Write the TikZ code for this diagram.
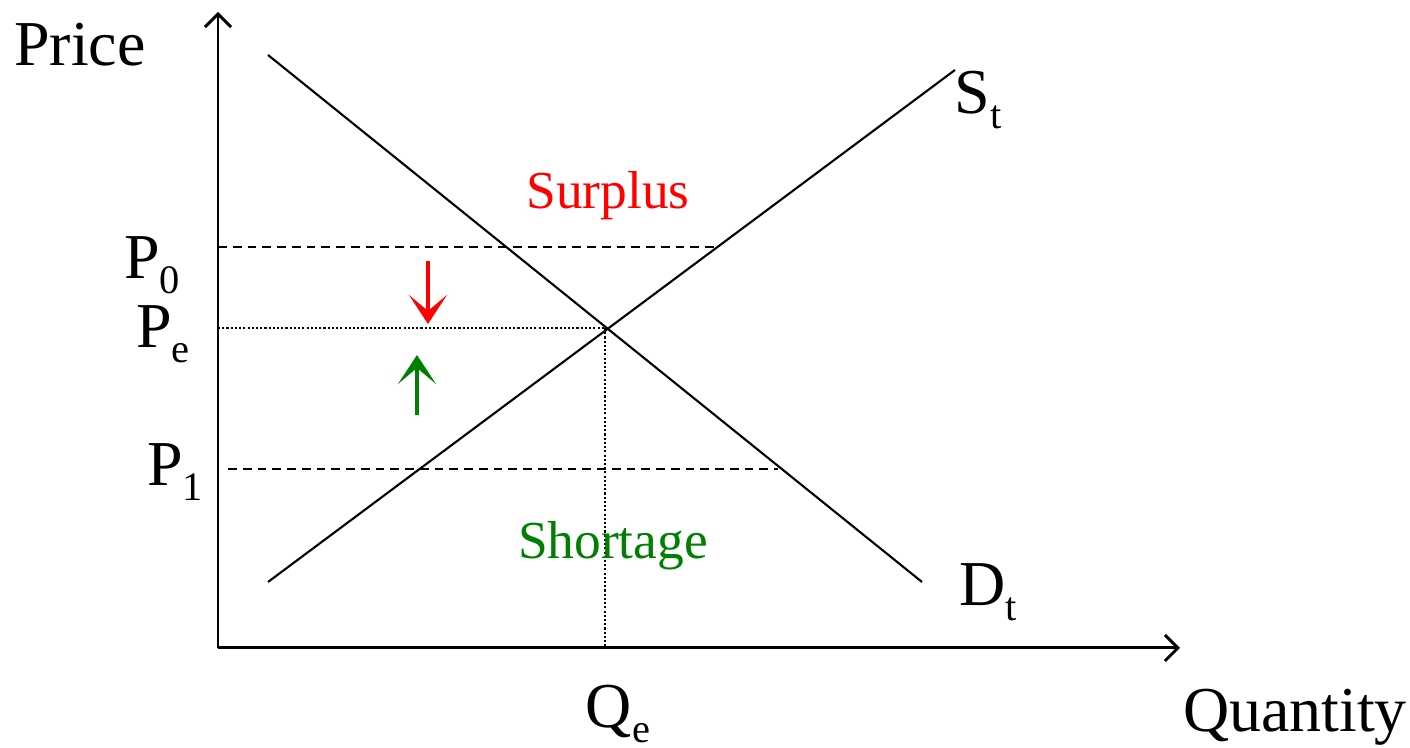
\documentclass[tikz,border=0pt]{standalone}
\usepackage{fontspec}
\setmainfont{Liberation Serif}
\usepackage{xcolor}
\usetikzlibrary{positioning,arrows.meta}
\definecolor{surplusred}{RGB}{255,0,0}
\definecolor{shortgreen}{RGB}{0,128,0}
\newcommand{\lbl}[2]{#1\raisebox{-0.24em}{\fontsize{11.5}{13}\selectfont #2}}

\begin{document}
\begin{tikzpicture}[
    big/.style={
        inner sep=0pt,
        font=\fontsize{18.2}{20}\selectfont
    },
    mid/.style={
        inner sep=0pt,
        font=\fontsize{15.2}{17}\selectfont
    },
    axis/.style={
        -{Straight Barb[length=1.3mm,width=2.6mm]},
        line width=0.85pt
    },
    curve/.style={
        line width=0.6pt
    },
    level/.style={
        dash pattern=on 2.5pt off 1.7pt,
        line width=0.5pt
    },
    eq/.style={
        dash pattern=on 0.6pt off 0.6pt,
        line width=0.6pt
    },
    move/.style={
        -{Stealth[length=2.9mm,width=3.8mm,inset=1.6mm]},
        line width=1.05pt
    }
]
\useasboundingbox (0,0) rectangle (14.1,7.48);
% axes
\coordinate (O) at (2.18,1.00);
\coordinate (Ytop) at (2.18,7.36);
\coordinate (Xend) at (11.80,1.00);
\draw[axis] (O) -- (Ytop);
\draw[axis] (O) -- (Xend);
% demand and supply
\coordinate (D0) at (2.68,6.93);
\coordinate (D1) at (9.22,1.66);
\coordinate (S0) at (2.68,1.66);
\coordinate (S1) at (9.55,6.78);
\draw[curve] (D0) -- (D1);
\draw[curve] (S0) -- (S1);
\coordinate (E) at (6.05,4.20);
\coordinate (Ex) at (6.05,1.00);
\coordinate (Ey) at (2.18,4.20);
% price levels
\coordinate (P0a) at (2.18,5.01);
\coordinate (P0b) at (7.16,5.01);
\coordinate (P1a) at (2.28,2.79);
\coordinate (P1b) at (7.78,2.79);
\draw[level] (P0a) -- (P0b);
\draw[level] (P1a) -- (P1b);
\draw[eq] (Ey) -- (E);
\draw[eq] (E) -- (Ex);
% adjustment arrows
\coordinate (R0) at (4.28,4.87);
\coordinate (R1) at (4.28,4.24);
\coordinate (G0) at (4.17,3.33);
\coordinate (G1) at (4.17,3.93);
\draw[move,surplusred] (R0) -- (R1);
\draw[move,shortgreen] (G0) -- (G1);
% labels
\node[big] (price) at (0.80,7.03) {Price};
\node[big] (quantity) at (12.95,0.31) {Quantity};
\node[big] (St) at (9.78,6.48) {\lbl{S}{t}};
\node[big] (Dt) at (9.88,1.56) {\lbl{D}{t}};
\node[big] (P0) at (1.52,4.83) {\lbl{P}{0}};
\node[big] (Pe) at (1.63,4.14) {\lbl{P}{e}};
\node[big] (P1) at (1.75,2.76) {\lbl{P}{1}};
\node[big] (Qe) at (6.18,0.34) {\lbl{Q}{e}};
\node[mid,text=surplusred] (surplus) at (6.08,5.52) {Surplus};
\node[mid,text=shortgreen] (shortage) at (6.13,2.02) {Shortage};
\end{tikzpicture}
\end{document}
